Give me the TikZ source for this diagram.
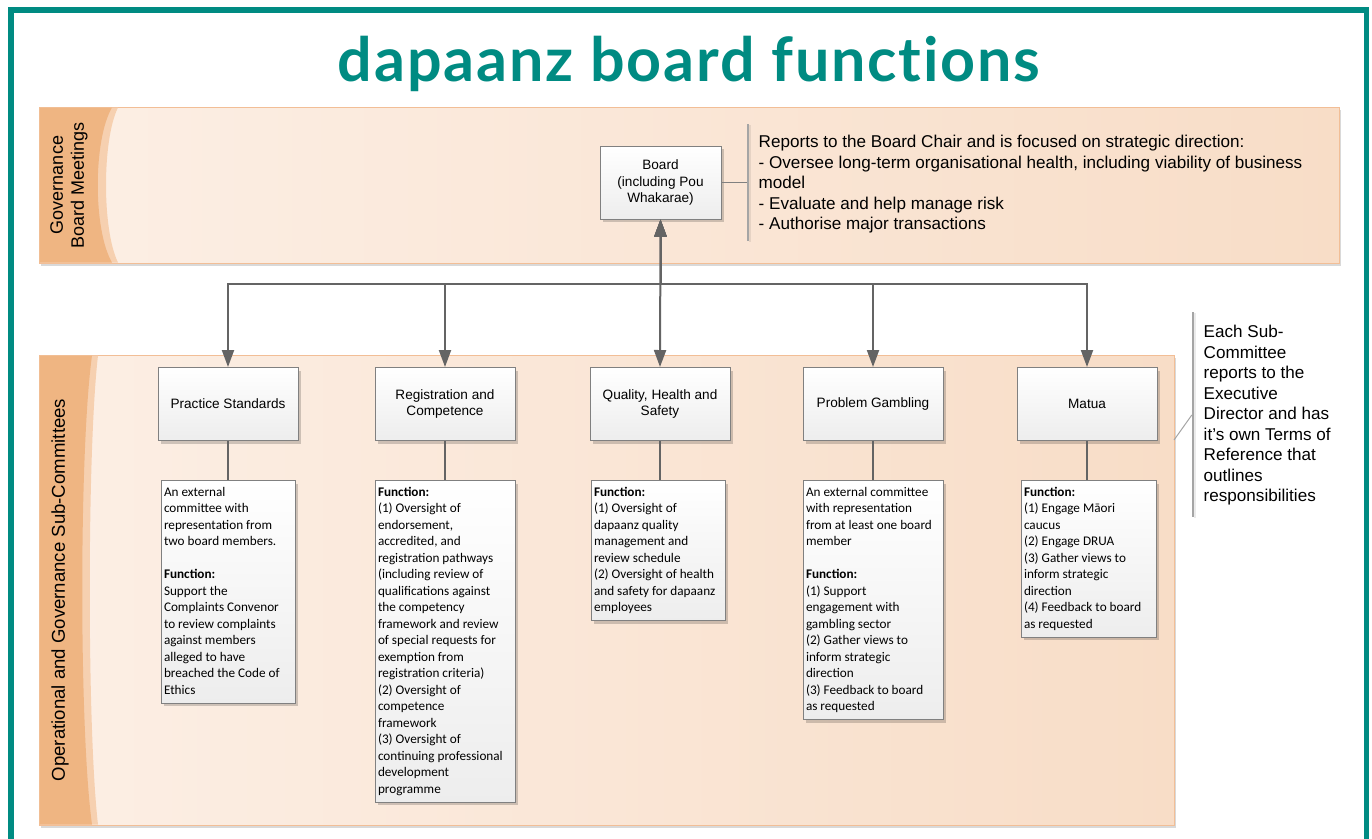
\documentclass[tikz,border=0pt]{standalone}
\usepackage{fontspec}
\setmainfont{Liberation Sans}
\newfontfamily\calfont{Carlito}
\newfontfamily\titlefont{Lato}[Ligatures=NoCommon, LetterSpace=3]
\usetikzlibrary{arrows.meta,shadows}
\definecolor{tealc}{RGB}{0,139,130}
\definecolor{laneL}{RGB}{252,239,229}
\definecolor{laneR}{RGB}{248,221,199}
\definecolor{laneBorder}{RGB}{242,190,150}
\definecolor{headDark}{RGB}{239,181,130}
\definecolor{headLight}{RGB}{246,208,176}
\definecolor{connc}{RGB}{100,100,100}
\definecolor{boxBorder}{RGB}{128,128,128}
\definecolor{barc}{RGB}{165,165,165}
\tikzset{
  lane/.style={draw=laneBorder, line width=1pt, left color=laneL, right color=laneR,
    inner sep=0, drop shadow={shadow xshift=2pt, shadow yshift=-3pt, opacity=0.15, fill=black}},
  unitbox/.style={draw=boxBorder, line width=1pt, top color=white, bottom color=black!7,
    minimum width=140, minimum height=73, inner sep=2, align=center,
    font=\fontsize{13.6}{16.3}\selectfont,
    drop shadow={shadow xshift=3pt, shadow yshift=-3pt, opacity=0.18, fill=black}},
  detail/.style={draw=boxBorder, line width=1pt, top color=white, bottom color=black!7,
    anchor=north, inner xsep=3, inner ysep=4, align=flush left,
    font=\calfont\fontsize{13.2}{16.5}\selectfont,
    execute at begin node=\strut, execute at end node=\strut,
    drop shadow={shadow xshift=3pt, shadow yshift=-3pt, opacity=0.18, fill=black}},
  note/.style={anchor=north west, inner sep=0, align=left,
    font=\fontsize{17.1}{20.5}\selectfont, execute at begin node=\strut},
  bar/.style={fill=barc, minimum width=2, inner sep=0, draw=none,
    drop shadow={shadow xshift=2pt, shadow yshift=-1pt, opacity=0.08, fill=black}},
  conn/.style={draw=connc, line width=2pt,
    {Triangle[length=17pt,width=12pt]}-{Triangle[length=17pt,width=12pt]}},
  link/.style={draw=connc, line width=1.5pt},
  headtext/.style={rotate=90, align=center, inner sep=0}
}
\begin{document}
\begin{tikzpicture}[x=1pt,y=-1pt]
\useasboundingbox (0,0) rectangle (1372,838);
\fill[white] (0,0) rectangle (1372,838);
% frame
\draw[tealc, line width=5.5pt] (11,840) -- (11,10) -- (1366.5,10) -- (1366.5,840);
% title
\node[anchor=base, inner sep=0, text=tealc, font=\titlefont\bfseries\fontsize{61}{63}\selectfont] (title) at (689,81) {dapaanz board functions};

% lane 1
\node[lane, minimum width=1300, minimum height=156] (lane1) at (689,185) {};
\fill[headLight] (39.5,107.5) -- (118,107.5) .. controls (102,140) and (102,230) .. (118,262.5) -- (39.5,262.5) -- cycle;
\fill[headDark] (39.5,107.5) -- (112,107.5) .. controls (93,140) and (93,230) .. (112,262.5) -- (39.5,262.5) -- cycle;
\node[headtext, font=\fontsize{18}{21}\selectfont] (h1) at (69,185) {Governance\\Board Meetings};

% lane 2
\node[lane, minimum width=1135, minimum height=470] (lane2) at (606.5,590) {};
\fill[headLight] (39.5,355.5) -- (98,355.5) .. controls (87,450) and (87,730) .. (98,824.5) -- (39.5,824.5) -- cycle;
\fill[headDark] (39.5,355.5) -- (92,355.5) .. controls (79,450) and (79,730) .. (92,824.5) -- (39.5,824.5) -- cycle;
\node[headtext, font=\fontsize{18.6}{21}\selectfont] (h2) at (60,590) {Operational and Governance Sub-Committees};

% board
\node[unitbox, minimum width=121] (board) at (660.5,182.5) {Board\\(including Pou\\Whakarae)};
\node[bar, minimum height=117] (bar1) at (748,182.5) {};
\draw[draw=boxBorder, line width=1.5pt] (board.east) -- (bar1.west);
\node[note] (note1) at (758.5,135) {Reports to the Board Chair and is focused on strategic direction:\\
- Oversee long-term organisational health, including viability of business\\
model\\
- Evaluate and help manage risk\\
- Authorise major transactions};

% sub-committees
\node[unitbox] (ps) at (228,404) {Practice Standards};
\node[unitbox] (rc) at (445,404) {Registration and\\Competence};
\node[unitbox] (qhs) at (660,404) {Quality, Health and\\Safety};
\node[unitbox] (pg) at (873,404) {Problem Gambling};
\node[unitbox] (mat) at (1087,404) {Matua};

\draw[conn] (board.south) -- ++(0,64) -| (ps.north);
\draw[conn] (board.south) -- ++(0,64) -| (rc.north);
\draw[conn] (board.south) -- (qhs.north);
\draw[conn] (board.south) -- ++(0,64) -| (pg.north);
\draw[conn] (board.south) -- ++(0,64) -| (mat.north);

% details
\node[detail, text width=128] (psd) at (228,480) {An external\\committee with\\representation from\\two board members.\\[16.5pt]\textbf{Function:}\\Support the\\Complaints Convenor\\to review complaints\\against members\\alleged to have\\breached the Code of\\Ethics};
\node[detail, text width=134] (rcd) at (445,480) {\textbf{Function:}\\(1) Oversight of\\endorsement,\\accredited, and\\registration pathways\\(including review of\\qualifications against\\the competency\\framework and review\\of special requests for\\exemption from\\registration criteria)\\(2) Oversight of\\competence\\framework\\(3) Oversight of\\continuing professional\\development\\programme};
\node[detail, text width=128] (qhsd) at (658,480) {\textbf{Function:}\\(1) Oversight of\\dapaanz quality\\management and\\review schedule\\(2) Oversight of health\\and safety for dapaanz\\employees};
\node[detail, text width=134] (pgd) at (873,480) {An external committee\\with representation\\from at least one board\\member\\[16.5pt]\textbf{Function:}\\(1) Support\\engagement with\\gambling sector\\(2) Gather views to\\inform strategic\\direction\\(3) Feedback to board\\as requested};
\node[detail, text width=129] (matd) at (1088.5,480) {\textbf{Function:}\\(1) Engage Māori\\caucus\\(2) Engage DRUA\\(3) Gather views to\\inform strategic\\direction\\(4) Feedback to board\\as requested};

\draw[link] (ps.south) -- (ps.south |- psd.north);
\draw[link] (rc.south) -- (rc.south |- rcd.north);
\draw[link] (qhs.south) -- (qhs.south |- qhsd.north);
\draw[link] (pg.south) -- (pg.south |- pgd.north);
\draw[link] (mat.south) -- (mat.south |- matd.north);

% right note
\node[bar, minimum height=205] (bar2) at (1193,414.5) {};
\coordinate (c2) at (1174,440);
\draw[draw=barc, line width=1pt] (c2) -- (bar2.west |- 0,415);
\node[note] (note2) at (1203.5,325.3) {Each Sub-\\Committee\\reports to the\\Executive\\Director and has\\it’s own Terms of\\Reference that\\outlines\\responsibilities};
\end{tikzpicture}
\end{document}
